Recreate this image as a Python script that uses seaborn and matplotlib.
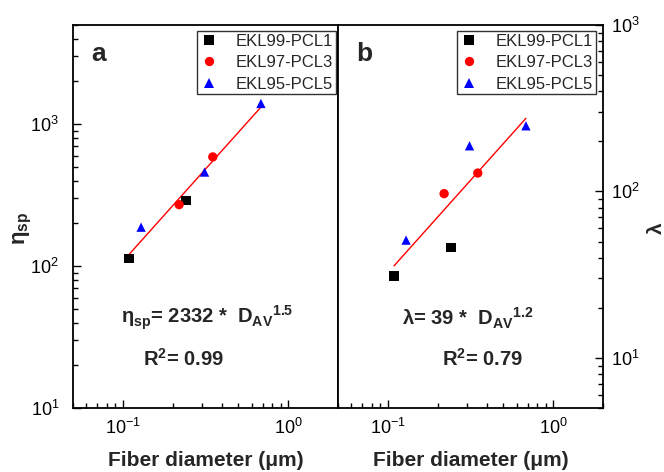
import matplotlib
matplotlib.use("Agg")
import matplotlib.pyplot as plt
import numpy as np
import pandas as pd
import seaborn as sns

# data
samples = ["EKL99-PCL1", "EKL97-PCL3", "EKL95-PCL5"]
diam_pcl1 = [0.109, 0.241]
diam_pcl3 = [0.219, 0.350]
diam_pcl5 = [0.129, 0.312, 0.684]
eta_pcl1 = [113, 291]
eta_pcl3 = [271, 588]
eta_pcl5 = [188, 460, 1400]
lam_pcl1 = [31, 46]
lam_pcl3 = [97, 129]
lam_pcl5 = [51, 188, 248]

colors = {"EKL99-PCL1": "black", "EKL97-PCL3": "red", "EKL95-PCL5": "blue"}
markers = {"EKL99-PCL1": "s", "EKL97-PCL3": "o", "EKL95-PCL5": "^"}

sns.set_theme(style="ticks")
plt.rcParams["font.family"] = ["Liberation Sans", "DejaVu Sans"]
plt.rcParams["mathtext.default"] = "regular"


def make_df(vals):
    rows = []
    for name, xs, ys in zip(samples, [diam_pcl1, diam_pcl3, diam_pcl5], vals):
        for x, y in zip(xs, ys):
            rows.append({"D": x, "val": y, "sample": name})
    return pd.DataFrame(rows)


df_eta = make_df([eta_pcl1, eta_pcl3, eta_pcl5])
df_lam = make_df([lam_pcl1, lam_pcl3, lam_pcl5])

fig = plt.figure(figsize=(6.64, 4.72), dpi=100)
ax1 = fig.add_axes([73 / 664, 64 / 472, 265 / 664, 383 / 472])
ax2 = fig.add_axes([338 / 664, 64 / 472, 265 / 664, 383 / 472])


def draw_panel(ax, df, ylim, legend_x):
    # power-law fit line on log-log data
    lx, ly = np.log10(df["D"]), np.log10(df["val"])
    k, b = np.polyfit(lx, ly, 1)
    xs = np.array([df["D"].min(), df["D"].max()])
    ax.plot(xs, 10 ** (b + k * np.log10(xs)), color="red", lw=1, zorder=1)

    sns.scatterplot(data=df, x="D", y="val", hue="sample", style="sample",
                    palette=colors, markers=markers, hue_order=samples,
                    style_order=samples, s=45, linewidth=0, ax=ax, zorder=3)
    ax.set_xscale("log")
    ax.set_yscale("log")
    ax.set_xlim(0.05, 2)
    ax.set_ylim(*ylim)

    handles, labels = ax.get_legend_handles_labels()
    leg = ax.legend(handles, labels, loc="upper right",
                    bbox_to_anchor=(legend_x, 0.993), fontsize=12,
                    frameon=True, fancybox=False, edgecolor="black",
                    borderpad=0.15, labelspacing=0.4, handletextpad=1.0,
                    handlelength=1.2, borderaxespad=0.2)
    leg.get_frame().set_linewidth(1.0)

    for s in ax.spines.values():
        s.set_linewidth(1.3)
        s.set_color("black")
    ax.set_xlabel("Fiber diameter (μm)", fontsize=15, fontweight="bold", va="center")
    ax.xaxis.set_label_coords(0.5, -0.137)
    ax.tick_params(which="both", direction="in", color="black", labelcolor="black",
                   labelsize=13)
    ax.tick_params(which="major", length=6, width=1)
    ax.tick_params(which="minor", length=3.5, width=1)
    ax.tick_params(axis="x", which="both", top=False, pad=7)


draw_panel(ax1, df_eta, (10, 5000), 1.005)
ax1.tick_params(axis="y", which="both", right=False, pad=10)
ax1.set_ylabel("$η_{sp}$", fontsize=16, fontweight="bold", va="center")
ax1.yaxis.set_label_coords(-0.19, 0.47)

draw_panel(ax2, df_lam, (5, 1000), 0.985)
ax2.yaxis.tick_right()
ax2.yaxis.set_label_position("right")
ax2.tick_params(axis="y", which="both", left=False, right=True, pad=6)
ax2.set_ylabel("λ", fontsize=15, fontweight="bold", rotation=90, va="center")
ax2.yaxis.set_label_coords(1.2, 0.47)

# panel letters and fit equations
ax1.text(0.07, 0.907, "a", transform=ax1.transAxes, fontsize=19, fontweight="bold")
ax2.text(0.07, 0.907, "b", transform=ax2.transAxes, fontsize=19, fontweight="bold")
ax1.text(0.506, 0.235, "$η_{sp}$= 2332 *  $D_{AV}$$^{1.5}$", transform=ax1.transAxes,
         fontsize=14.5, fontweight="bold", ha="center", va="center")
ax1.text(0.418, 0.128, "$R^2$= 0.99", transform=ax1.transAxes,
         fontsize=14.5, fontweight="bold", ha="center", va="center")
ax2.text(0.489, 0.235, "λ= 39 *  $D_{AV}$$^{1.2}$", transform=ax2.transAxes,
         fontsize=14.5, fontweight="bold", ha="center", va="center")
ax2.text(0.545, 0.128, "$R^2$= 0.79", transform=ax2.transAxes,
         fontsize=14.5, fontweight="bold", ha="center", va="center")

fig.savefig("out.png", dpi=100)
